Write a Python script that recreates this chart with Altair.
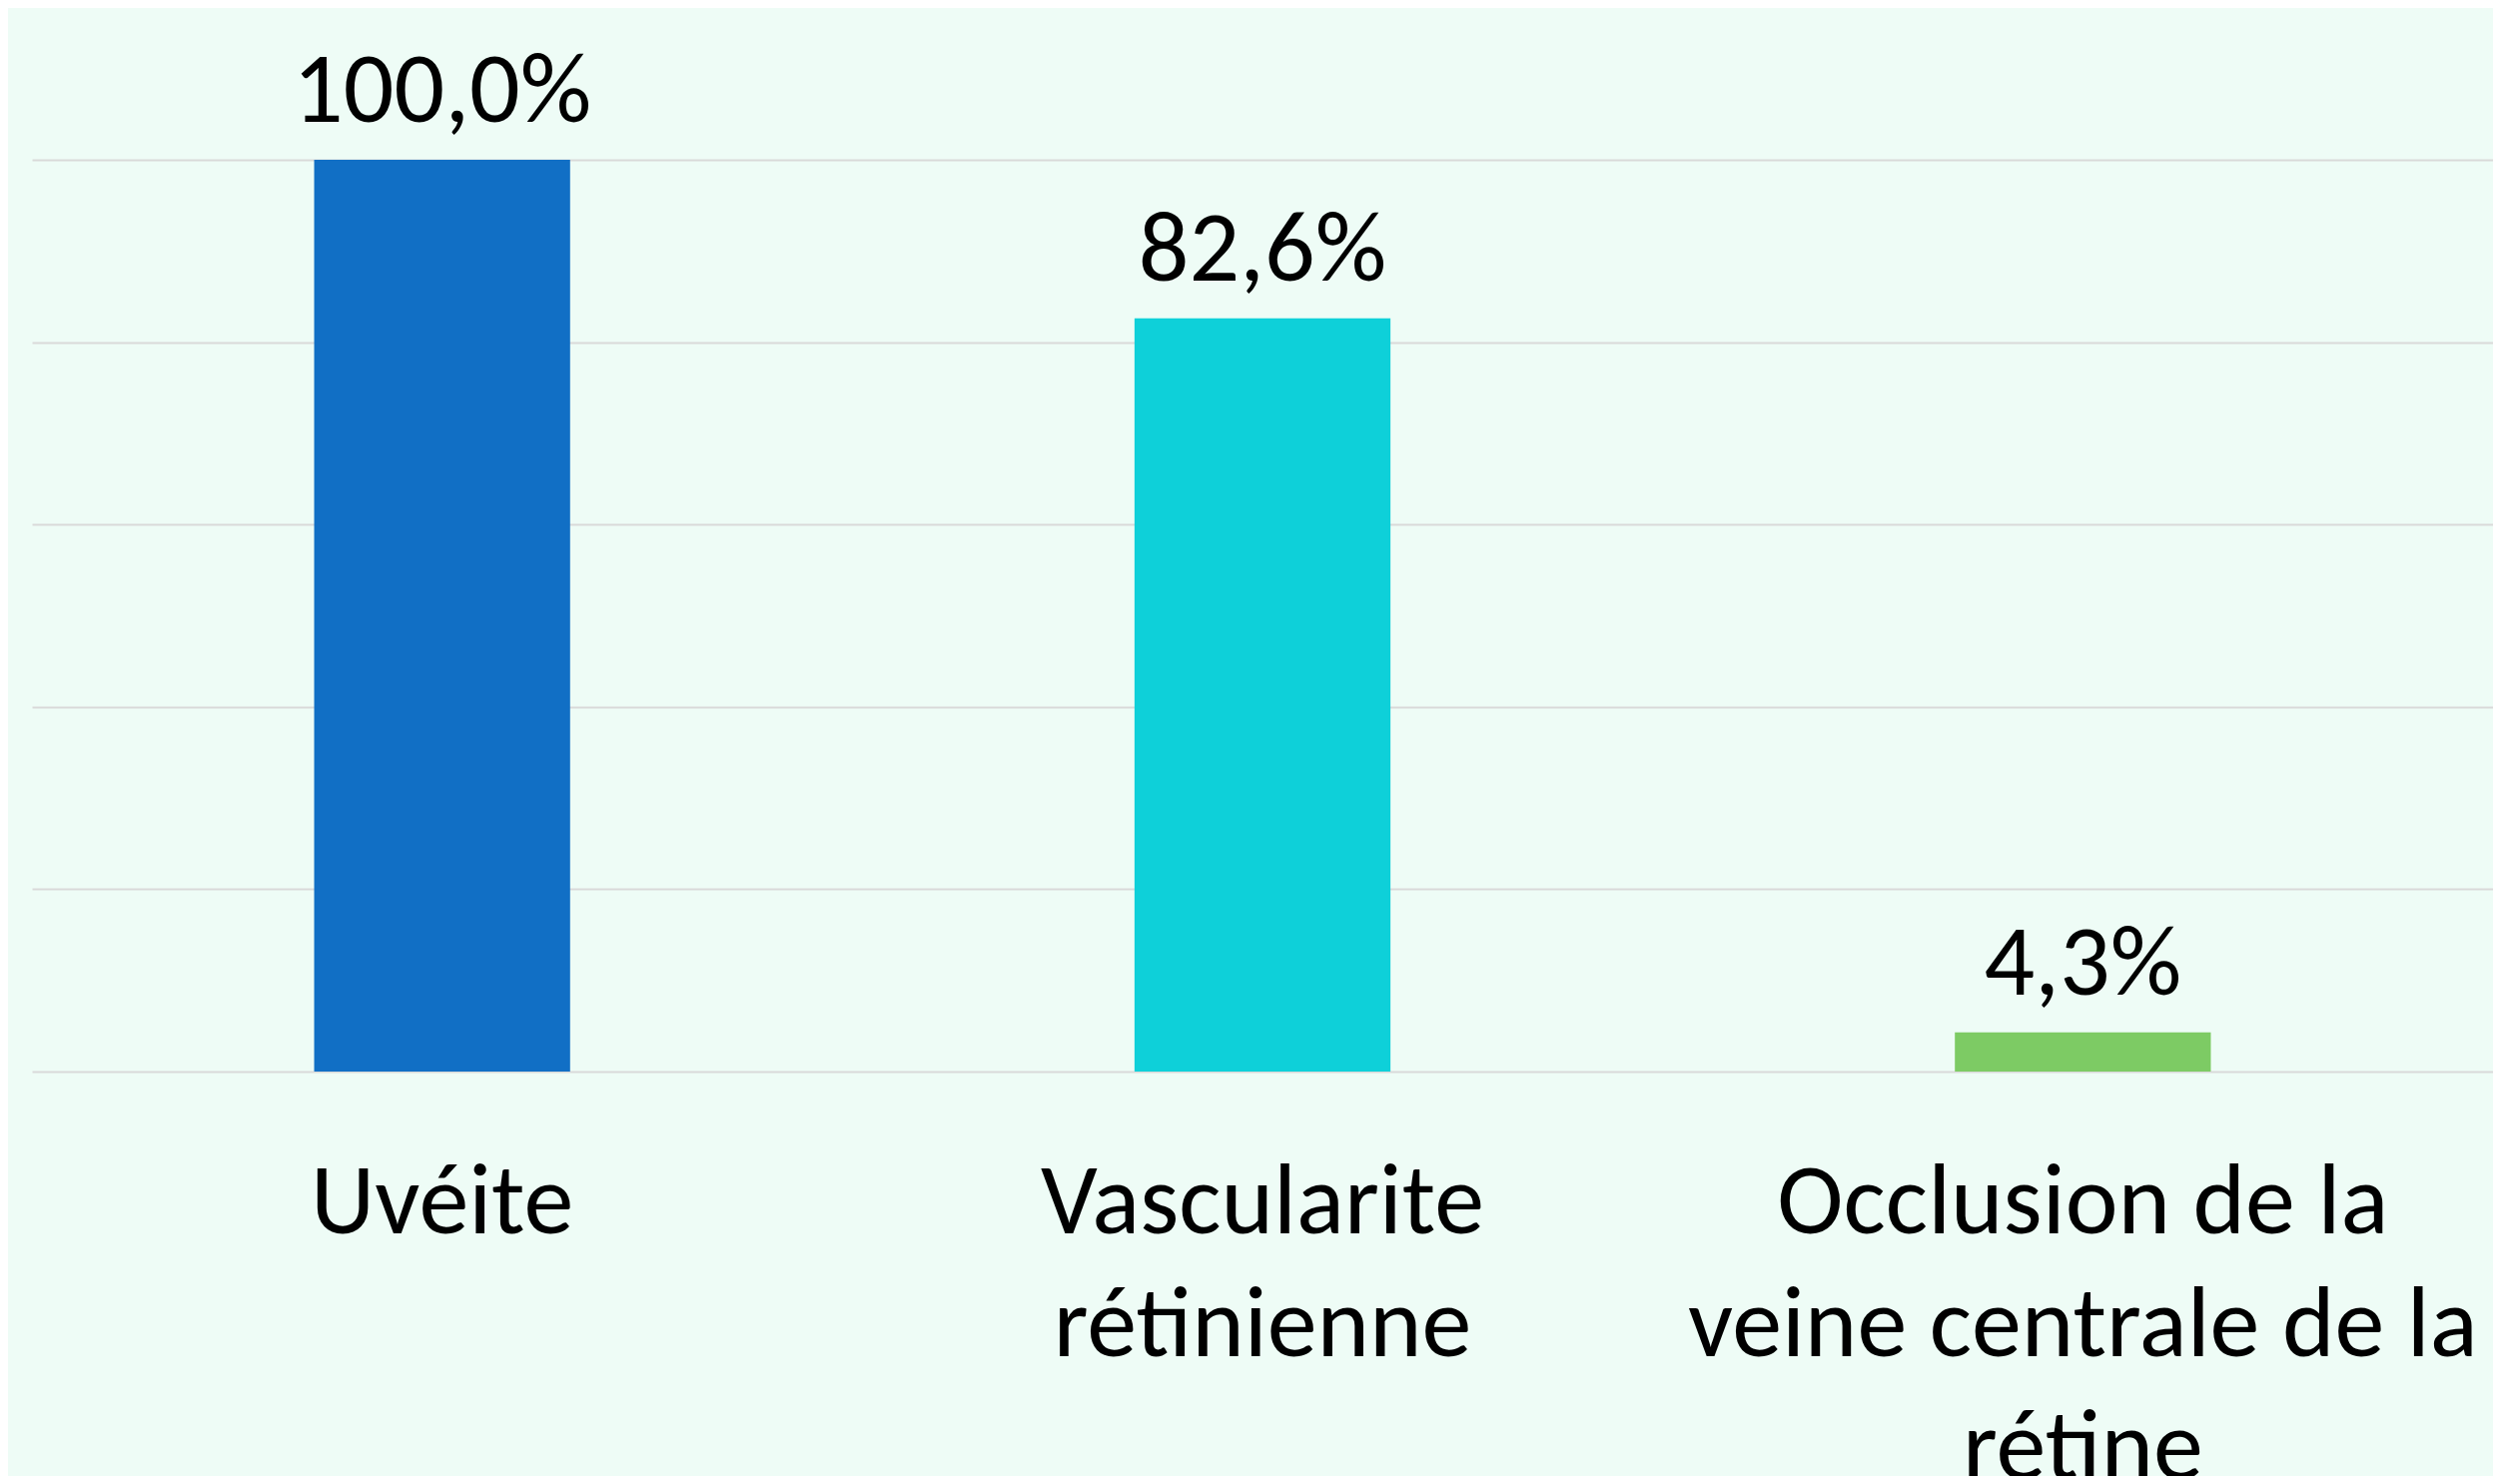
import altair as alt
import pandas as pd

categories = ["Uvéite", "Vascularite|rétinienne", "Occlusion de la|veine centrale de la|rétine"]
values = [100.0, 82.6, 4.3]
colors = ["#116FC5", "#0ED0D9", "#7DCB64"]

df = pd.DataFrame({
    "cat": categories,
    "val": values,
    "col": colors,
})
df["lab"] = [f"{v:.1f}%".replace(".", ",") for v in values]

FONT = "Carlito, Lato, sans-serif"
FS = 100

x = alt.X("cat:N", sort=categories, title=None,
          scale=alt.Scale(paddingInner=0.688, paddingOuter=0.344),
          axis=alt.Axis(labelExpr="split(datum.label, '|')", labelAngle=0,
                        labelFontSize=FS, labelFont=FONT, labelColor="#000000",
                        labelLineHeight=123, labelPadding=82, ticks=False,
                        domain=False, grid=False, labelLimit=0))
y = alt.Y("val:Q", title=None, scale=alt.Scale(domain=[0, 100], nice=False),
          axis=alt.Axis(values=[0, 20, 40, 60, 80, 100], labels=False, ticks=False,
                        domain=False, grid=True, gridColor="#D9D9D9", gridWidth=2))

bars = alt.Chart(df).mark_bar().encode(x=x, y=y, color=alt.Color("col:N", scale=None))
text = alt.Chart(df).mark_text(dy=-38, baseline="alphabetic", fontSize=FS, font=FONT,
                               color="#000000").encode(x=alt.X("cat:N", sort=categories),
                                                       y="val:Q", text="lab:N")

chart = (bars + text).properties(
    width=2464, height=913,
    background="#EEFCF6",
    autosize=alt.AutoSizeParams(type="none"),
    padding={"left": 24, "top": 152, "right": 0, "bottom": 405},
).configure_view(stroke=None)

chart.save("out.html", embed_options={"renderer": "svg", "actions": False})
